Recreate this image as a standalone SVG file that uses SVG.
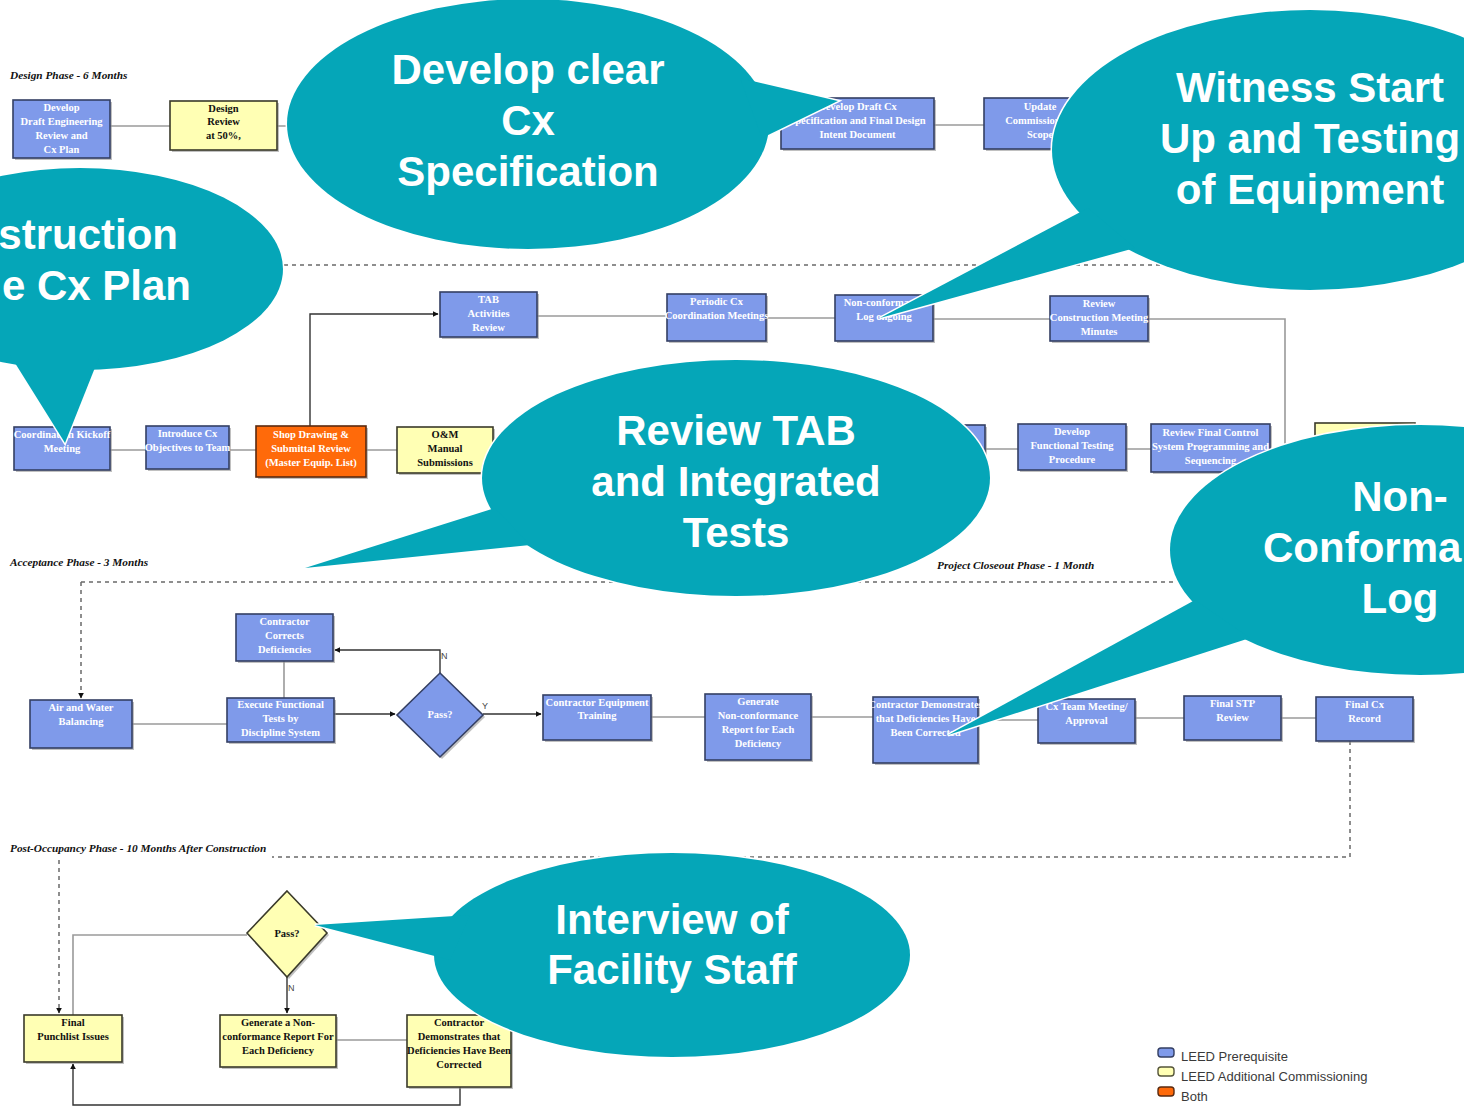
<svg xmlns="http://www.w3.org/2000/svg" width="1464" height="1108" viewBox="0 0 1464 1108">
<defs>
<style>
.bg{fill:#ffffff}
.sh{fill:#8c8c8c;opacity:.55}
.nb{fill:#7f9aea;stroke:#343f63;stroke-width:1.6}
.ny{fill:#ffffb4;stroke:#3a3a2a;stroke-width:1.6}
.no{fill:#ff6a0a;stroke:#5a2a10;stroke-width:1.6}
.t{font-family:"Liberation Serif","Times New Roman",serif;font-weight:bold;font-size:10.5px;text-anchor:middle;fill:#ffffff}
.tk{font-family:"Liberation Serif","Times New Roman",serif;font-weight:bold;font-size:10.5px;text-anchor:middle;fill:#111111}
.hd{font-family:"Liberation Serif","Times New Roman",serif;font-weight:bold;font-style:italic;font-size:11.3px;fill:#111111}
.ln{fill:none;stroke:#9a9a9a;stroke-width:1.6}
.lk{fill:none;stroke:#333333;stroke-width:1.4}
.ds{fill:none;stroke:#6a6a6a;stroke-width:1.5;stroke-dasharray:4 4}
.yn{font-family:"Liberation Sans",Arial,sans-serif;font-size:9px;fill:#444444}
.bo{fill:#05a6b8;stroke:#ffffff;stroke-width:3}
.bf{fill:#05a6b8}
.bt{font-family:"Liberation Sans",Arial,sans-serif;font-weight:bold;font-size:42px;fill:#ffffff;text-anchor:middle}
.lg{font-family:"Liberation Sans",Arial,sans-serif;font-size:13px;fill:#3a3a3a}
</style>
<marker id="ar" viewBox="0 0 10 10" refX="9" refY="5" markerWidth="6" markerHeight="6" orient="auto" markerUnits="userSpaceOnUse">
<path d="M0 0L10 5L0 10z" fill="#111111"/>
</marker>
<!-- callout outlines: ellipse + pointer -->
<ellipse id="e1" cx="528" cy="124" rx="241" ry="125"/>
<polygon id="p1" points="740,78 838,101 762,138"/>
<ellipse id="e2" cx="1310" cy="150" rx="258" ry="140"/>
<polygon id="p2" points="1088,208 880,318 1135,248"/>
<ellipse id="e3" cx="80" cy="269" rx="203" ry="101"/>
<polygon id="p3" points="10,355 65,443 100,355"/>
<ellipse id="e4" cx="736" cy="478" rx="254" ry="118"/>
<polygon id="p4" points="495,508 305,568 530,545"/>
<ellipse id="e5" cx="1420" cy="550" rx="250" ry="125"/>
<polygon id="p5" points="1195,600 948,735 1250,638"/>
<ellipse id="e6" cx="672" cy="955" rx="238" ry="102"/>
<polygon id="p6" points="470,915 315,925 450,960"/>
</defs>

<rect class="bg" x="0" y="0" width="1464" height="1108"/>

<!-- phase headings -->
<g id="headings">
<text class="hd" x="10" y="79">Design Phase - 6 Months</text>
<text class="hd" x="10" y="566">Acceptance Phase - 3 Months</text>
<text class="hd" x="937" y="569">Project Closeout Phase - 1 Month</text>
<text class="hd" x="10" y="852">Post-Occupancy Phase - 10 Months After Construction</text>
</g>

<!-- connectors -->
<g id="connectors">
<path class="ds" d="M20 265H1300"/>
<path class="ln" d="M110 126H170M277 126H300M934 125H984"/>
<path class="lk" d="M310 426V314H438" marker-end="url(#ar)"/>
<path class="ln" d="M537 316H667M766 318H835M933 319H1050M1148 319H1285V450"/>
<path class="ln" d="M110 450H146M229 450H256M366 450H397M493 450H520M985 449H1018M1126 449H1151M1270 449H1315"/>
<path class="ds" d="M81 582H1300"/>
<path class="ds" d="M81 582V698" marker-end="url(#ar)"/>
<path class="ln" d="M132 724H227M284 661V698"/>
<path class="lk" d="M334 714H395" marker-end="url(#ar)"/>
<path class="lk" d="M440 673V650H335" marker-end="url(#ar)"/>
<path class="lk" d="M483 714H541" marker-end="url(#ar)"/>
<path class="ln" d="M651 717H705M811 717H873M978 720H1038M1135 718H1184M1281 718H1316"/>
<path class="ds" d="M1350 741V857H272"/>
<path class="ds" d="M59 860V1013" marker-end="url(#ar)"/>
<path class="ln" d="M247 935H73V1015"/>
<path class="lk" d="M287 977V1013" marker-end="url(#ar)"/>
<path class="ln" d="M336 1040H407"/>
<path class="lk" d="M460 1087V1105H73V1064" marker-end="url(#ar)"/>
<text class="yn" x="441" y="659">N</text>
<text class="yn" x="482" y="709">Y</text>
<text class="yn" x="288" y="991">N</text>
</g>

<!-- design phase -->
<g id="n-draft-eng">
<rect class="sh" x="15" y="102" width="97" height="58"/>
<rect class="nb" x="13" y="100" width="97" height="58"/>
<text class="t" x="61.5" y="111">Develop</text><text class="t" x="61.5" y="125">Draft Engineering</text><text class="t" x="61.5" y="139">Review and</text><text class="t" x="61.5" y="153">Cx Plan</text>
</g>
<g id="n-design-review">
<rect class="sh" x="172" y="103" width="107" height="49"/>
<rect class="ny" x="170" y="101" width="107" height="49"/>
<text class="tk" x="223.5" y="112">Design</text><text class="tk" x="223.5" y="125">Review</text><text class="tk" x="223.5" y="139">at 50%,</text>
</g>
<g id="n-cx-spec">
<rect class="sh" x="783" y="100" width="153" height="51"/>
<rect class="nb" x="781" y="98" width="153" height="51"/>
<text class="t" x="857.5" y="110">Develop Draft Cx</text><text class="t" x="857.5" y="124">Specification and Final Design</text><text class="t" x="857.5" y="138">Intent Document</text>
</g>
<g id="n-update-scope">
<rect class="sh" x="986" y="100" width="112" height="51"/>
<rect class="nb" x="984" y="98" width="112" height="51"/>
<text class="t" x="1040" y="110">Update</text><text class="t" x="1040" y="124">Commissioning</text><text class="t" x="1040" y="138">Scope</text>
</g>

<!-- construction phase -->
<g id="n-tab">
<rect class="sh" x="442" y="294" width="97" height="45"/>
<rect class="nb" x="440" y="292" width="97" height="45"/>
<text class="t" x="488.5" y="303">TAB</text><text class="t" x="488.5" y="317">Activities</text><text class="t" x="488.5" y="331">Review</text>
</g>
<g id="n-periodic">
<rect class="sh" x="669" y="296" width="99" height="47"/>
<rect class="nb" x="667" y="294" width="99" height="47"/>
<text class="t" x="716.5" y="305">Periodic Cx</text><text class="t" x="716.5" y="319">Coordination Meetings</text>
</g>
<g id="n-ncr-log">
<rect class="sh" x="837" y="297" width="98" height="46"/>
<rect class="nb" x="835" y="295" width="98" height="46"/>
<text class="t" x="884" y="306">Non-conformance</text><text class="t" x="884" y="320">Log ongoing</text>
</g>
<g id="n-minutes">
<rect class="sh" x="1052" y="298" width="98" height="45"/>
<rect class="nb" x="1050" y="296" width="98" height="45"/>
<text class="t" x="1099" y="307">Review</text><text class="t" x="1099" y="321">Construction Meeting</text><text class="t" x="1099" y="335">Minutes</text>
</g>
<g id="n-kickoff">
<rect class="sh" x="16" y="429" width="96" height="43"/>
<rect class="nb" x="14" y="427" width="96" height="43"/>
<text class="t" x="62" y="438">Coordination Kickoff</text><text class="t" x="62" y="452">Meeting</text>
</g>
<g id="n-introduce">
<rect class="sh" x="148" y="428" width="83" height="43"/>
<rect class="nb" x="146" y="426" width="83" height="43"/>
<text class="t" x="187.5" y="437">Introduce Cx</text><text class="t" x="187.5" y="451">Objectives to Team</text>
</g>
<g id="n-shop">
<rect class="sh" x="258" y="428" width="110" height="51"/>
<rect class="no" x="256" y="426" width="110" height="51"/>
<text class="t" x="311" y="438">Shop Drawing &amp;</text><text class="t" x="311" y="452">Submittal Review</text><text class="t" x="311" y="466">(Master Equip. List)</text>
</g>
<g id="n-om">
<rect class="sh" x="399" y="429" width="96" height="46"/>
<rect class="ny" x="397" y="427" width="96" height="46"/>
<text class="tk" x="445" y="438">O&amp;M</text><text class="tk" x="445" y="452">Manual</text><text class="tk" x="445" y="466">Submissions</text>
</g>
<g id="n-hidden-a">
<rect class="sh" x="897" y="427" width="90" height="45"/>
<rect class="nb" x="895" y="425" width="90" height="45"/>
</g>
<g id="n-fpt">
<rect class="sh" x="1020" y="426" width="108" height="46"/>
<rect class="nb" x="1018" y="424" width="108" height="46"/>
<text class="t" x="1072" y="435">Develop</text><text class="t" x="1072" y="449">Functional Testing</text><text class="t" x="1072" y="463">Procedure</text>
</g>
<g id="n-controls">
<rect class="sh" x="1153" y="426" width="119" height="48"/>
<rect class="nb" x="1151" y="424" width="119" height="48"/>
<text class="t" x="1210.5" y="436">Review Final Control</text><text class="t" x="1210.5" y="450">System Programming and</text><text class="t" x="1210.5" y="464">Sequencing</text>
</g>
<g id="n-hidden-b">
<rect class="sh" x="1317" y="425" width="100" height="48"/>
<rect class="ny" x="1315" y="423" width="100" height="48"/>
</g>

<!-- acceptance phase -->
<g id="n-balancing">
<rect class="sh" x="32" y="702" width="102" height="48"/>
<rect class="nb" x="30" y="700" width="102" height="48"/>
<text class="t" x="81" y="711">Air and Water</text><text class="t" x="81" y="725">Balancing</text>
</g>
<g id="n-corrects">
<rect class="sh" x="238" y="616" width="97" height="47"/>
<rect class="nb" x="236" y="614" width="97" height="47"/>
<text class="t" x="284.5" y="625">Contractor</text><text class="t" x="284.5" y="639">Corrects</text><text class="t" x="284.5" y="653">Deficiencies</text>
</g>
<g id="n-execute">
<rect class="sh" x="229" y="700" width="107" height="44"/>
<rect class="nb" x="227" y="698" width="107" height="44"/>
<text class="t" x="280.5" y="708">Execute Functional</text><text class="t" x="280.5" y="722">Tests by</text><text class="t" x="280.5" y="736">Discipline System</text>
</g>
<g id="n-pass-a">
<polygon class="sh" points="442,675 485,717 442,759 399,717"/>
<polygon class="nb" points="440,673 483,715 440,757 397,715"/>
<text class="t" x="440" y="718">Pass?</text>
</g>
<g id="n-training">
<rect class="sh" x="545" y="697" width="108" height="45"/>
<rect class="nb" x="543" y="695" width="108" height="45"/>
<text class="t" x="597" y="706">Contractor Equipment</text><text class="t" x="597" y="719">Training</text>
</g>
<g id="n-ncr">
<rect class="sh" x="707" y="696" width="106" height="66"/>
<rect class="nb" x="705" y="694" width="106" height="66"/>
<text class="t" x="758" y="705">Generate</text><text class="t" x="758" y="719">Non-conformance</text><text class="t" x="758" y="733">Report for Each</text><text class="t" x="758" y="747">Deficiency</text>
</g>
<g id="n-demo-a">
<rect class="sh" x="875" y="699" width="105" height="66"/>
<rect class="nb" x="873" y="697" width="105" height="66"/>
<text class="t" x="925.5" y="708">Contractor Demonstrates</text><text class="t" x="925.5" y="722">that Deficiencies Have</text><text class="t" x="925.5" y="736">Been Corrected</text>
</g>
<g id="n-team">
<rect class="sh" x="1040" y="701" width="97" height="44"/>
<rect class="nb" x="1038" y="699" width="97" height="44"/>
<text class="t" x="1086.5" y="710">Cx Team Meeting/</text><text class="t" x="1086.5" y="724">Approval</text>
</g>
<g id="n-stp">
<rect class="sh" x="1186" y="698" width="97" height="44"/>
<rect class="nb" x="1184" y="696" width="97" height="44"/>
<text class="t" x="1232.5" y="707">Final STP</text><text class="t" x="1232.5" y="721">Review</text>
</g>
<g id="n-record">
<rect class="sh" x="1318" y="699" width="97" height="44"/>
<rect class="nb" x="1316" y="697" width="97" height="44"/>
<text class="t" x="1364.5" y="708">Final Cx</text><text class="t" x="1364.5" y="722">Record</text>
</g>

<!-- post-occupancy phase -->
<g id="n-punchlist">
<rect class="sh" x="26" y="1017" width="98" height="47"/>
<rect class="ny" x="24" y="1015" width="98" height="47"/>
<text class="tk" x="73" y="1026">Final</text><text class="tk" x="73" y="1040">Punchlist Issues</text>
</g>
<g id="n-pass-b">
<polygon class="sh" points="289,893 329,935 289,979 249,935"/>
<polygon class="ny" points="287,891 327,933 287,977 247,933"/>
<text class="tk" x="287" y="937">Pass?</text>
</g>
<g id="n-ncr-b">
<rect class="sh" x="222" y="1017" width="116" height="52"/>
<rect class="ny" x="220" y="1015" width="116" height="52"/>
<text class="tk" x="278" y="1026">Generate a Non-</text><text class="tk" x="278" y="1040">conformance Report For</text><text class="tk" x="278" y="1054">Each Deficiency</text>
</g>
<g id="n-demo-b">
<rect class="sh" x="409" y="1017" width="104" height="72"/>
<rect class="ny" x="407" y="1015" width="104" height="72"/>
<text class="tk" x="459" y="1026">Contractor</text><text class="tk" x="459" y="1040">Demonstrates that</text><text class="tk" x="459" y="1054">Deficiencies Have Been</text><text class="tk" x="459" y="1068">Corrected</text>
</g>

<!-- legend -->
<g id="legend">
<rect x="1158" y="1048" width="16" height="9" rx="3" fill="#7f9aea" stroke="#343f63" stroke-width="1.4"/>
<rect x="1158" y="1067" width="16" height="9" rx="3" fill="#ffffb4" stroke="#55553a" stroke-width="1.4"/>
<rect x="1158" y="1087" width="16" height="9" rx="3" fill="#ff6a0a" stroke="#5a2a10" stroke-width="1.4"/>
<text class="lg" x="1181" y="1061">LEED Prerequisite</text>
<text class="lg" x="1181" y="1081">LEED Additional Commissioning</text>
<text class="lg" x="1181" y="1101">Both</text>
</g>

<!-- callouts -->
<g id="callout-spec">
<use href="#e1" class="bo"/><use href="#p1" class="bo"/><use href="#e1" class="bf"/><use href="#p1" class="bf"/>
<text class="bt" x="528" y="84">Develop clear</text><text class="bt" x="528" y="135">Cx</text><text class="bt" x="528" y="186">Specification</text>
</g>
<g id="callout-witness">
<use href="#e2" class="bo"/><use href="#p2" class="bo"/><use href="#e2" class="bf"/><use href="#p2" class="bf"/>
<text class="bt" x="1310" y="102">Witness Start</text><text class="bt" x="1310" y="153">Up and Testing</text><text class="bt" x="1310" y="204">of Equipment</text>
</g>
<g id="callout-plan">
<use href="#e3" class="bo"/><use href="#p3" class="bo"/><use href="#e3" class="bf"/><use href="#p3" class="bf"/>
<text class="bt" x="178" y="249" style="text-anchor:end">struction</text><text class="bt" x="191" y="300" style="text-anchor:end">e Cx Plan</text>
</g>
<g id="callout-tab">
<use href="#e4" class="bo"/><use href="#p4" class="bo"/><use href="#e4" class="bf"/><use href="#p4" class="bf"/>
<text class="bt" x="736" y="445">Review TAB</text><text class="bt" x="736" y="496">and Integrated</text><text class="bt" x="736" y="547">Tests</text>
</g>
<g id="callout-ncr">
<use href="#e5" class="bo"/><use href="#p5" class="bo"/><use href="#e5" class="bf"/><use href="#p5" class="bf"/>
<text class="bt" x="1400" y="511">Non-</text><text class="bt" x="1263" y="562" style="text-anchor:start">Conforma</text><text class="bt" x="1400" y="613">Log</text>
</g>
<g id="callout-staff">
<use href="#e6" class="bo"/><use href="#p6" class="bo"/><use href="#e6" class="bf"/><use href="#p6" class="bf"/>
<text class="bt" x="672" y="934">Interview of</text><text class="bt" x="672" y="984">Facility Staff</text>
</g>
</svg>
